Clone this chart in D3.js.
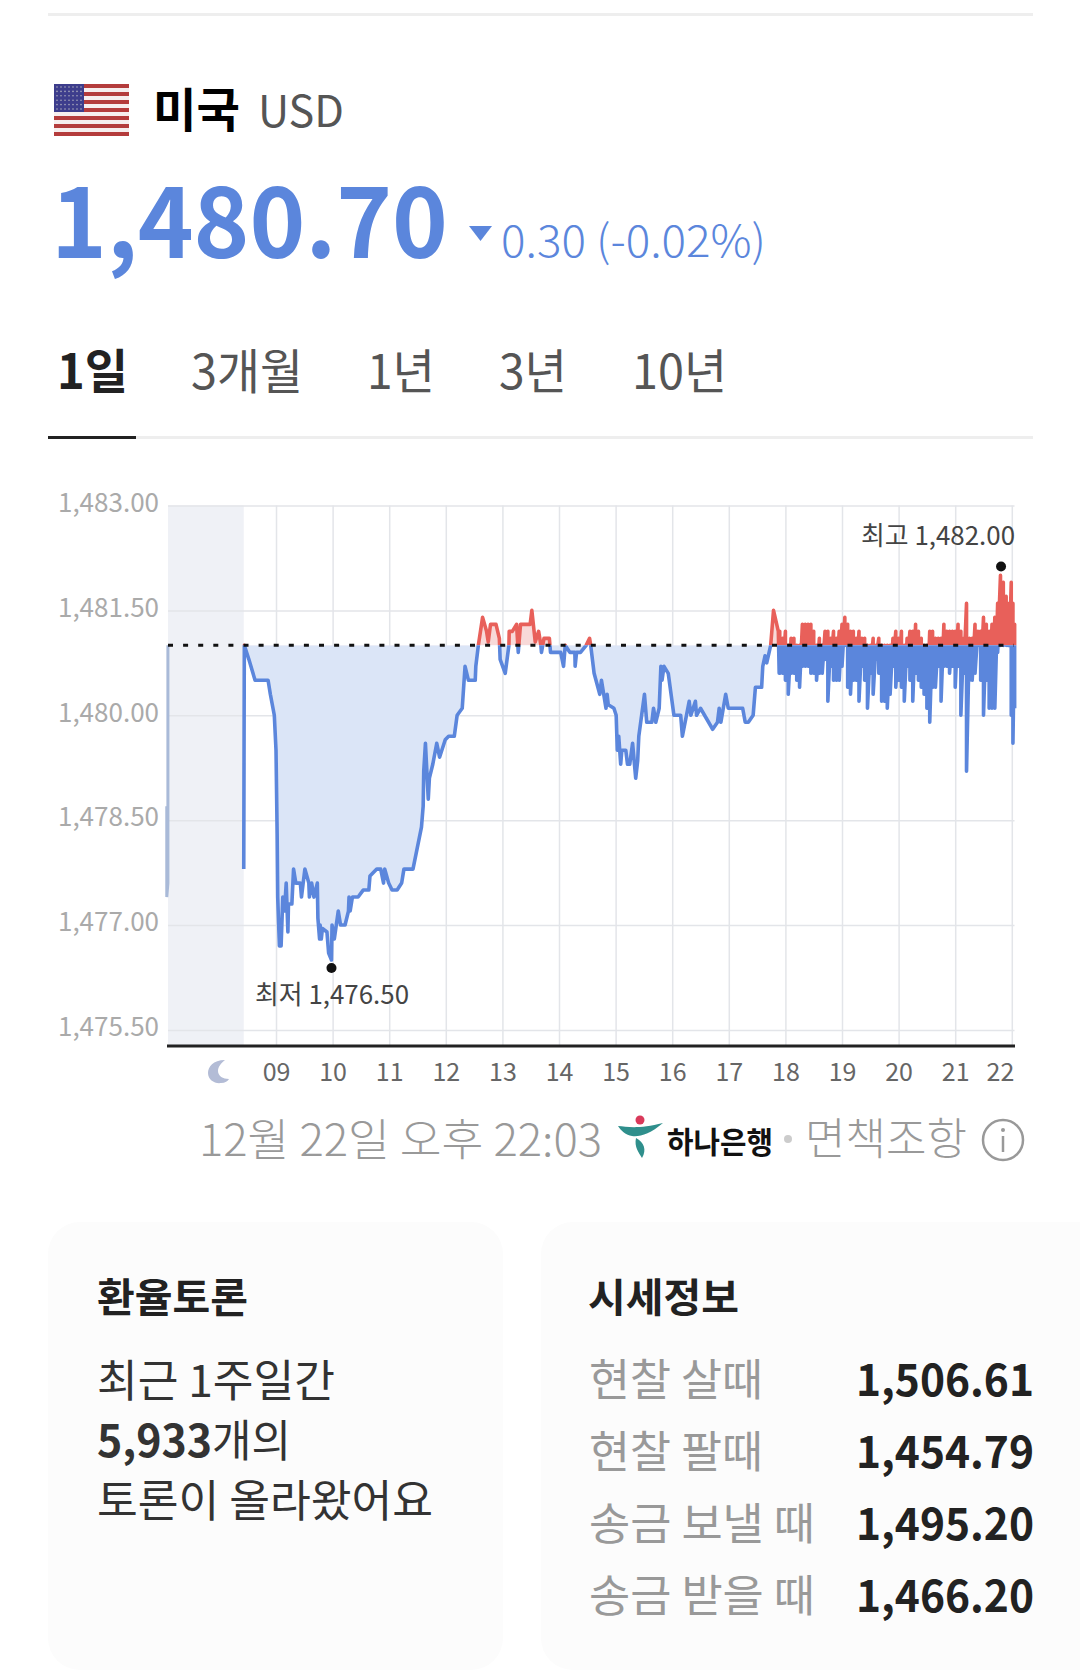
<!DOCTYPE html>
<html>
<head>
<meta charset="utf-8">
<script src="https://cdn.jsdelivr.net/npm/d3@7"></script>
<style>
body { margin: 0; background: #fff; }
svg { display: block; }
text { font-family: "Noto Sans CJK KR", "Noto Sans", sans-serif; }
</style>
</head>
<body>
<svg width="1080" height="1674"></svg>
<script>
var prevClose = 1481.0;
var yTicks = [1483, 1481.5, 1480, 1478.5, 1477, 1475.5];
var hourTicks = [9, 10, 11, 12, 13, 14, 15, 16, 17, 18, 19, 20, 21, 22];
var hourLabels = ["09", "10", "11", "12", "13", "14", "15", "16", "17", "18", "19", "20", "21", "22"];

// overnight sliver at the far left
var nightHours = [7.07, 7.07, 7.09, 7.09];
var nightRates = [1478.7, 1477.4, 1477.6, 1481.0];

// session up to about 17:50
var dayHours = [8.43, 8.44, 8.52, 8.63, 8.86, 8.90, 8.97, 9.00, 9.02, 9.03, 9.06, 9.09, 9.12, 9.15, 9.18, 9.21, 9.22, 9.28, 9.31, 9.35,
  9.43, 9.45, 9.51, 9.58, 9.59, 9.63, 9.67, 9.73, 9.74, 9.77, 9.78, 9.80, 9.82, 9.90, 9.93, 9.98, 9.99, 10.03, 10.10, 10.14,
  10.22, 10.28, 10.29, 10.31, 10.35, 10.45, 10.54, 10.64, 10.66, 10.78, 10.85, 10.90, 10.92, 10.99, 11.05, 11.14, 11.22, 11.26, 11.42, 11.57,
  11.60, 11.61, 11.64, 11.69, 11.71, 11.77, 11.84, 11.89, 11.99, 12.05, 12.15, 12.20, 12.29, 12.34, 12.40, 12.52, 12.53, 12.575, 12.65, 12.72,
  12.75, 12.79, 12.887, 12.946, 12.96, 13.05, 13.115, 13.12, 13.175, 13.25, 13.28, 13.32, 13.49, 13.52, 13.58, 13.64, 13.68, 13.69, 13.735, 13.83,
  13.85, 14.03, 14.08, 14.11, 14.19, 14.28, 14.285, 14.31, 14.38, 14.48, 14.54, 14.56, 14.62, 14.72, 14.75, 14.83, 14.85, 14.87, 14.97, 15.01,
  15.03, 15.055, 15.09, 15.11, 15.18, 15.21, 15.25, 15.30, 15.355, 15.39, 15.41, 15.51, 15.55, 15.64, 15.67, 15.71, 15.77, 15.80, 15.82, 15.855,
  15.93, 16.03, 16.15, 16.18, 16.30, 16.33, 16.41, 16.43, 16.50, 16.715, 16.80, 16.83, 16.86, 16.945, 16.99, 17.245, 17.29, 17.345, 17.43, 17.47,
  17.58, 17.60, 17.64, 17.67, 17.74, 17.79, 17.875, 17.89];
var dayRates = [1477.8, 1481.0, 1480.8, 1480.5, 1480.5, 1480.3, 1480.0, 1479.5, 1478.3, 1477.4, 1476.7, 1476.7, 1477.4, 1477.2, 1477.6, 1476.9, 1477.3, 1477.3, 1477.8, 1477.6,
  1477.6, 1477.4, 1477.8, 1477.6, 1477.4, 1477.6, 1477.4, 1477.6, 1477.1, 1476.8, 1477.0, 1476.8, 1476.95, 1476.9, 1476.6, 1476.5, 1477.0, 1476.8, 1477.2, 1477.0,
  1477.0, 1477.2, 1477.4, 1477.2, 1477.4, 1477.4, 1477.5, 1477.5, 1477.7, 1477.8, 1477.8, 1477.6, 1477.8, 1477.6, 1477.5, 1477.5, 1477.6, 1477.8, 1477.8, 1478.4,
  1478.7, 1479.2, 1479.6, 1478.8, 1479.1, 1479.3, 1479.6, 1479.4, 1479.65, 1479.7, 1479.7, 1480.0, 1480.1, 1480.7, 1480.5, 1480.5, 1480.7, 1481.0, 1481.4, 1481.2,
  1481.05, 1481.3, 1481.3, 1481.1, 1480.8, 1480.6, 1481.0, 1481.2, 1481.2, 1481.3, 1480.9, 1481.3, 1481.3, 1481.5, 1481.05, 1481.2, 1481.0, 1480.9, 1481.1, 1481.1,
  1480.9, 1480.9, 1480.7, 1481.0, 1480.9, 1480.9, 1480.7, 1480.9, 1480.9, 1481.0, 1481.1, 1481.0, 1480.6, 1480.3, 1480.5, 1480.1, 1480.3, 1480.15, 1480.1, 1480.0,
  1479.5, 1479.7, 1479.3, 1479.5, 1479.5, 1479.3, 1479.3, 1479.6, 1479.1, 1479.35, 1479.7, 1480.3, 1479.9, 1479.9, 1480.1, 1479.9, 1480.1, 1480.7, 1480.5, 1480.7,
  1480.6, 1480.0, 1480.0, 1479.7, 1480.2, 1480.0, 1480.2, 1480.0, 1480.1, 1479.8, 1479.9, 1480.1, 1479.9, 1480.3, 1480.1, 1480.1, 1479.9, 1479.9, 1480.0, 1480.4,
  1480.4, 1480.7, 1480.85, 1480.75, 1481.0, 1481.5, 1481.2, 1480.6];

// evening: the quote flips fast, so read as high/low per column
var eveningHours = [17.90, 17.95, 18.00, 18.05, 18.10, 18.15, 18.20, 18.25, 18.30, 18.35, 18.40, 18.45, 18.50, 18.55, 18.60, 18.65, 18.70, 18.75, 18.80, 18.85,
  18.90, 18.95, 19.00, 19.05, 19.10, 19.15, 19.20, 19.25, 19.30, 19.35, 19.40, 19.45, 19.50, 19.55, 19.60, 19.65, 19.70, 19.75, 19.80, 19.85,
  19.90, 19.95, 20.00, 20.05, 20.10, 20.15, 20.20, 20.25, 20.30, 20.35, 20.40, 20.45, 20.50, 20.55, 20.60, 20.65, 20.70, 20.75, 20.80, 20.85,
  20.90, 20.95, 21.00, 21.05, 21.10, 21.15, 21.20, 21.25, 21.30, 21.35, 21.40, 21.45, 21.50, 21.55, 21.60, 21.65, 21.70, 21.75, 21.80, 21.85,
  21.90, 21.93, 21.96, 21.99, 22.02, 22.05];
var eveningHighs = [1481.2, 1481.1, 1481.2, 1481.0, 1481.1, 1481.1, 1481.0, 1481.0, 1481.3, 1481.3, 1481.3, 1481.3, 1481.2, 1481.0, 1481.1, 1481.0, 1481.2, 1481.2, 1481.1, 1481.2,
  1481.1, 1481.2, 1481.3, 1481.4, 1481.3, 1481.2, 1481.2, 1481.1, 1481.2, 1481.1, 1481.1, 1481.0, 1481.0, 1481.1, 1481.0, 1481.1, 1481.0, 1481.0, 1481.0, 1481.0,
  1481.1, 1481.2, 1481.1, 1481.2, 1481.0, 1481.1, 1481.2, 1481.2, 1481.3, 1481.2, 1481.1, 1481.0, 1481.0, 1481.2, 1481.2, 1481.1, 1481.1, 1481.1, 1481.3, 1481.2,
  1481.2, 1481.2, 1481.2, 1481.3, 1481.2, 1481.1, 1481.6, 1481.1, 1481.1, 1481.3, 1481.2, 1481.2, 1481.4, 1481.3, 1481.2, 1481.3, 1481.4, 1481.6, 1482.0, 1481.9,
  1481.7, 1481.6, 1481.0, 1481.9, 1481.6, 1481.3];
var eveningLows = [1480.6, 1480.6, 1480.5, 1480.3, 1480.6, 1480.6, 1480.5, 1480.4, 1480.7, 1480.7, 1480.7, 1480.6, 1480.6, 1480.5, 1480.6, 1480.6, 1480.8, 1480.2, 1480.7, 1480.5,
  1480.5, 1480.5, 1480.7, 1481.0, 1480.4, 1480.3, 1480.5, 1480.5, 1480.2, 1480.7, 1480.5, 1480.1, 1480.6, 1480.3, 1480.8, 1480.6, 1480.2, 1480.2, 1480.1, 1480.3,
  1480.7, 1480.4, 1480.5, 1480.4, 1480.2, 1480.7, 1480.5, 1480.2, 1480.6, 1480.5, 1480.4, 1480.3, 1480.1, 1479.9, 1480.4, 1480.4, 1480.7, 1480.2, 1480.7, 1480.7,
  1480.6, 1480.7, 1480.4, 1480.7, 1480.0, 1480.6, 1479.2, 1480.5, 1480.5, 1480.6, 1481.0, 1480.5, 1480.0, 1480.5, 1480.1, 1480.1, 1480.1, 1480.9, 1481.0, 1481.0,
  1481.0, 1481.0, 1481.0, 1480.0, 1479.6, 1480.1];

var highHour = 21.81, highRate = 1482.0;
var lowHour = 9.98, lowRate = 1476.5;

var tabNames = ["1일", "3개월", "1년", "3년", "10년"];
var quoteNames = ["현찰 살때", "현찰 팔때", "송금 보낼 때", "송금 받을 때"];
var quoteRates = ["1,506.61", "1,454.79", "1,495.20", "1,466.20"];

var svg = d3.select("svg");
var BLUE = "#5b86dc", RED = "#e8605a";

// fit text to the width measured in the screenshot, its type is squeezed sideways
function label(x, y, str, o) {
  o = o || {};
  var t = svg.append("text")
    .attr("x", x).attr("y", y)
    .attr("font-size", o.size || 44)
    .attr("font-weight", o.weight || 400)
    .attr("fill", o.fill || "#222")
    .attr("text-anchor", o.anchor || "start")
    .text(str);
  if (o.width) t.attr("textLength", o.width).attr("lengthAdjust", "spacingAndGlyphs");
  return t;
}

// header
svg.append("rect").attr("x", 48).attr("y", 13).attr("width", 985).attr("height", 3).attr("fill", "#eeeeee");

var flag = svg.append("g").attr("transform", "translate(54,84)");
flag.selectAll("rect.stripe").data(d3.range(13)).enter().append("rect")
  .attr("class", "stripe")
  .attr("y", function(d) { return d * 4; })
  .attr("width", 75).attr("height", 4)
  .attr("fill", function(d) { return d % 2 ? "#f6eeee" : "#b43c3c"; });
flag.append("rect").attr("width", 30).attr("height", 28).attr("fill", "#3d3d8c");
flag.selectAll("circle").data(d3.cross(d3.range(7), d3.range(6))).enter().append("circle")
  .attr("cx", function(d) { return 3 + d[0] * 4; })
  .attr("cy", function(d) { return 3 + d[1] * 4.4; })
  .attr("r", 0.8).attr("fill", "#aab");

label(153, 127, "미국", { size: 47, weight: 700, fill: "#000", width: 87 });
label(258, 127, "USD", { size: 44, fill: "#555", width: 86 });
label(51, 258, "1,480.70", { size: 98, weight: 700, fill: BLUE, width: 397 });
svg.append("path").attr("d", "M469,226L492,226L480.5,241Z").attr("fill", BLUE);
label(501, 257, "0.30 (-0.02%)", { size: 44, weight: 300, fill: BLUE, width: 265 });

// tabs
var tabX = [57, 191, 367, 499, 632], tabW = [71, 112, 68, 68, 95];
tabNames.forEach(function(d, i) {
  label(tabX[i], 389, d, { size: 48, weight: i == 0 ? 700 : 400, fill: i == 0 ? "#222" : "#555", width: tabW[i] });
});
svg.append("rect").attr("x", 48).attr("y", 436).attr("width", 985).attr("height", 3).attr("fill", "#eeeeee");
svg.append("rect").attr("x", 48).attr("y", 436).attr("width", 88).attr("height", 3).attr("fill", "#222");

// chart
var x = d3.scaleLinear().domain([7.074, 22.03]).range([167, 1013.5]);
var y = d3.scaleLinear().domain([1475.27, 1483]).range([1046, 505.5]);
var plotTop = y(1483), plotBottom = y(1475.27);

svg.append("rect")
  .attr("x", 168).attr("y", plotTop)
  .attr("width", x(8.43) - 168).attr("height", plotBottom - plotTop)
  .attr("fill", "#eff1f6");

var yAxis = d3.axisLeft(y).tickValues(yTicks).tickFormat(d3.format(",.2f")).tickSize(1014.5 - 168).tickPadding(9);
var gy = svg.append("g").attr("transform", "translate(1014.5,0)").call(yAxis);
gy.select(".domain").remove();
gy.selectAll("line").attr("stroke", "#e3e5e9").attr("stroke-width", 1.5);
gy.selectAll("text").attr("font-size", 26).attr("fill", "#aaaaaa").attr("font-family", "Roboto, sans-serif").attr("dy", "0.22em");

var xAxis = d3.axisBottom(x).tickValues(hourTicks).tickFormat(function(d, i) { return hourLabels[i]; })
  .tickSize(-(plotBottom - plotTop)).tickPadding(17);
var gx = svg.append("g").attr("transform", "translate(0," + plotBottom + ")").call(xAxis);
gx.select(".domain").remove();
gx.selectAll("line").attr("stroke", "#e3e5e9").attr("stroke-width", 1.5);
gx.selectAll("text").attr("font-size", 25).attr("fill", "#666666").attr("font-family", "Roboto, sans-serif");
// the last label stays inside the plot
gx.selectAll("text").filter(function(d) { return d == 22; }).attr("text-anchor", "end").attr("dx", 2);

svg.append("line").attr("x1", 167).attr("x2", 1015)
  .attr("y1", plotBottom).attr("y2", plotBottom)
  .attr("stroke", "#222").attr("stroke-width", 3);

var defs = svg.append("defs");
defs.append("clipPath").attr("id", "above").append("rect")
  .attr("x", 0).attr("y", 0).attr("width", 1080).attr("height", y(prevClose));
defs.append("clipPath").attr("id", "below").append("rect")
  .attr("x", 0).attr("y", y(prevClose)).attr("width", 1080).attr("height", 1674);

var night = nightHours.map(function(h, i) { return { h: h, r: nightRates[i] }; });
var series = dayHours.map(function(h, i) { return { h: h, r: dayRates[i] }; });
eveningHours.forEach(function(h, i) {
  series.push({ h: h, r: eveningHighs[i] });
  series.push({ h: h, r: eveningLows[i] });
});

var line = d3.line().x(function(d) { return x(d.h); }).y(function(d) { return y(d.r); });
var area = d3.area().x(function(d) { return x(d.h); }).y0(y(prevClose)).y1(function(d) { return y(d.r); });

svg.append("path").attr("d", line(night)).attr("fill", "none").attr("stroke", "#a9bad8").attr("stroke-width", 3);

[["above", RED, "#f8d9d8"], ["below", BLUE, "#dbe5f7"]].forEach(function(s) {
  var g = svg.append("g").attr("clip-path", "url(#" + s[0] + ")");
  g.append("path").attr("d", area(series.slice(1))).attr("fill", s[2]);
  g.append("path").attr("d", line(series))
    .attr("fill", "none").attr("stroke", s[1]).attr("stroke-width", 3.6).attr("stroke-linejoin", "round");
});

svg.append("line")
  .attr("x1", 168).attr("x2", 1014)
  .attr("y1", y(prevClose)).attr("y2", y(prevClose))
  .attr("stroke", "#111").attr("stroke-width", 3).attr("stroke-dasharray", "5 10.1");

svg.append("circle").attr("cx", x(highHour)).attr("cy", y(highRate) - 9).attr("r", 5).attr("fill", "#111");
svg.append("circle").attr("cx", x(lowHour)).attr("cy", y(lowRate) + 8).attr("r", 5).attr("fill", "#111");
label(1015, 545, "최고 1,482.00", { size: 26, fill: "#444", anchor: "end", width: 154 });
label(332, 1004, "최저 1,476.50", { size: 26, fill: "#444", anchor: "middle", width: 154 });

// night marker on the axis
svg.append("path")
  .attr("d", "M225,1060C213,1060 208,1067 208,1073C208,1080 215,1084 221,1083C225,1083 228,1081 229,1079C223,1079 218,1076 218,1071C218,1067 221,1063 225,1060Z")
  .attr("fill", "#b3bcd6");

// source line
label(199, 1156, "12월 22일 오후 22:03", { size: 44, weight: 300, fill: "#999", width: 403 });
var logo = svg.append("g");
logo.append("circle").attr("cx", 640).attr("cy", 1120).attr("r", 4.5).attr("fill", "#d9395a");
logo.append("path").attr("d", "M618,1126C628,1127 640,1129 663,1123C650,1134 640,1137 632,1136C626,1135 621,1131 618,1126Z").attr("fill", "#2f8f8c");
logo.append("path").attr("d", "M636,1138C644,1142 647,1150 642,1158C639,1153 634,1147 636,1138Z").attr("fill", "#2f8f8c");
label(667, 1153, "하나은행", { size: 30, weight: 700, fill: "#111", width: 106 });
svg.append("circle").attr("cx", 788).attr("cy", 1139).attr("r", 4).attr("fill", "#ccc");
label(805, 1155, "면책조항", { size: 44, weight: 300, fill: "#999", width: 162 });
svg.append("circle").attr("cx", 1003).attr("cy", 1140).attr("r", 20).attr("fill", "none").attr("stroke", "#999").attr("stroke-width", 2.5);
svg.append("circle").attr("cx", 1003).attr("cy", 1130).attr("r", 2).attr("fill", "#999");
svg.append("line").attr("x1", 1003).attr("x2", 1003).attr("y1", 1136).attr("y2", 1152).attr("stroke", "#999").attr("stroke-width", 2.5);

// cards
svg.append("rect").attr("x", 48).attr("y", 1222).attr("width", 455).attr("height", 448).attr("rx", 32).attr("fill", "#fcfcfc");
svg.append("rect").attr("x", 541).attr("y", 1222).attr("width", 600).attr("height", 448).attr("rx", 32).attr("fill", "#fcfcfc");

label(97, 1312, "환율토론", { size: 40, weight: 700, fill: "#222", width: 151 });
label(97, 1397, "최근 1주일간", { size: 44, fill: "#333", width: 238 });
var l2 = label(97, 1457, "", { size: 44, fill: "#333" });
l2.append("tspan").attr("font-weight", 700).text("5,933");
l2.append("tspan").text("개의");
l2.attr("textLength", 194).attr("lengthAdjust", "spacingAndGlyphs");
label(97, 1517, "토론이 올라왔어요", { size: 44, fill: "#333", width: 336 });

label(588, 1312, "시세정보", { size: 40, weight: 700, fill: "#222", width: 151 });
var rowY = [1396, 1468, 1540, 1612];
var nameW = [174, 174, 226, 226];
quoteNames.forEach(function(d, i) {
  label(589, rowY[i], d, { size: 44, fill: "#999", width: nameW[i] });
  label(1034, rowY[i], quoteRates[i], { size: 44, weight: 700, fill: "#222", anchor: "end", width: 178 });
});
</script>
</body>
</html>
